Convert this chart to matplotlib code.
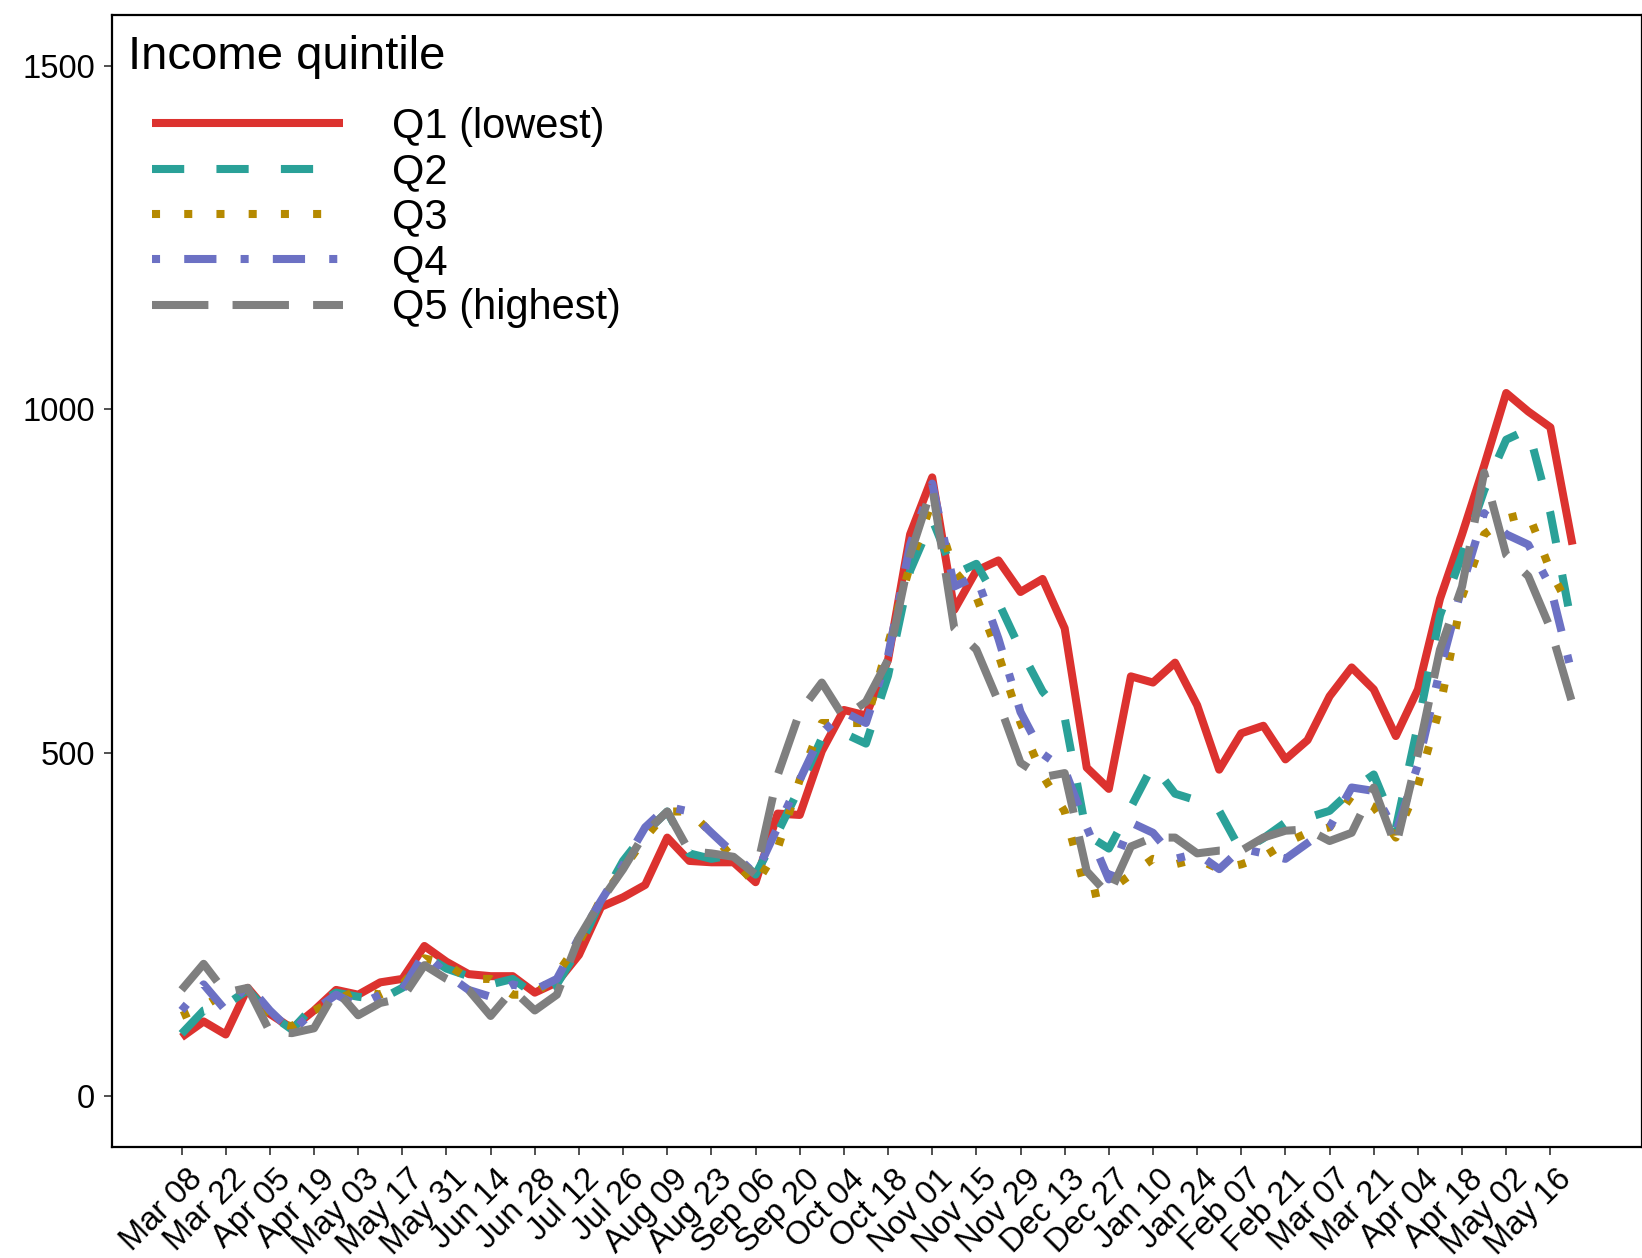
import pandas as pd
import matplotlib
matplotlib.use("Agg")
import matplotlib.pyplot as plt
import matplotlib.dates as mdates
from matplotlib.transforms import ScaledTranslation

plt.rcParams['font.family'] = ['Liberation Sans', 'DejaVu Sans']

# weekly dates, Mar 08 2020 .. May 23 2021
dates = pd.date_range('2020-03-08', periods=64, freq='7D')

q1 = [85, 108, 89, 157, 119, 98, 124, 154, 147, 165,
      170, 218, 195, 177, 174, 174, 150, 165, 205, 275,
      289, 307, 376, 342, 340, 340, 311, 411, 409, 502,
      562, 554, 635, 818, 901, 708, 765, 780, 734, 753,
      681, 478, 447, 611, 602, 631, 569, 475, 528, 539,
      490, 518, 582, 624, 592, 524, 592, 724, 818, 918,
      1024, 997, 974, 803]
q2 = [90, 124, 132, 154, 119, 96, 131, 150, 144, 140,
      157, 205, 185, 174, 162, 170, 147, 162, 215, 284,
      342, 383, 414, 353, 345, 351, 322, 383, 449, 521,
      528, 513, 612, 765, 840, 760, 775, 719, 650, 589,
      551, 380, 360, 420, 482, 440, 430, 415, 356, 375,
      398, 405, 415, 445, 468, 390, 540, 700, 788, 882,
      956, 971, 849, 681]
q3 = [116, 130, 150, 154, 108, 101, 124, 139, 154, 147,
      162, 200, 192, 170, 170, 147, 147, 177, 223, 287,
      330, 376, 414, 414, 383, 345, 307, 360, 460, 543,
      543, 543, 658, 773, 867, 765, 727, 643, 543, 467,
      414, 292, 299, 322, 345, 337, 345, 330, 337, 348,
      368, 383, 391, 437, 421, 376, 452, 566, 727, 818,
      841, 849, 765, 704]
q4 = [124, 162, 124, 162, 124, 93, 124, 147, 131, 147,
      154, 208, 177, 154, 144, 162, 154, 170, 230, 284,
      336, 391, 421, 414, 383, 353, 322, 391, 460, 528,
      559, 543, 641, 803, 892, 742, 757, 666, 559, 498,
      475, 391, 315, 398, 383, 345, 353, 330, 360, 353,
      345, 368, 391, 449, 444, 383, 482, 620, 742, 849,
      818, 803, 742, 612]
q5 = [154, 192, 150, 157, 93, 91, 98, 154, 117, 135,
      142, 190, 170, 154, 116, 154, 124, 147, 230, 284,
      330, 383, 414, 356, 353, 348, 322, 467, 559, 602,
      551, 574, 635, 788, 887, 681, 650, 574, 485, 464,
      470, 327, 292, 363, 376, 376, 353, 357, 357, 376,
      386, 388, 371, 383, 449, 363, 498, 650, 742, 908,
      788, 757, 681, 571]

labels = ['Q1 (lowest)', 'Q2', 'Q3', 'Q4', 'Q5 (highest)']
series = [q1, q2, q3, q4, q5]
colors = ['#dc322f', '#2aa198', '#b58900', '#6c71c4', '#7f7f7f']
styles = ['-', (0, (4, 4)), (0, (1, 3)), (0, (1, 3, 4, 3)), (0, (7, 3))]

fig = plt.figure(figsize=(16.42, 12.58), dpi=100)
ax = fig.add_axes([112/1642, 1 - 1147/1258, 1530/1642, 1132/1258])

for vals, lab, col, ls in zip(series, labels, colors, styles):
    ax.plot(dates, vals, color=col, linestyle=ls, linewidth=5.8, label=lab,
            solid_capstyle='butt', dash_capstyle='butt',
            solid_joinstyle='round', dash_joinstyle='round')

span = dates[-1] - dates[0]
pad = span * 0.05
ax.set_xlim(dates[0] - pad, dates[-1] + pad)
ax.set_ylim(-75, 1575)
ax.set_yticks([0, 500, 1000, 1500])

ticks = pd.date_range('2020-03-08', '2021-05-16', freq='14D')
ax.set_xticks(ticks)
ax.xaxis.set_major_formatter(mdates.DateFormatter('%b %d'))

ax.tick_params(axis='both', direction='out', length=6, width=1.2,
               color='#333333', labelcolor='black', labelsize=23.5, pad=6)
shift = ScaledTranslation(0.05, 0.0, fig.dpi_scale_trans)
for t in ax.get_xticklabels():
    t.set_rotation(45)
    t.set_ha('right')
    t.set_va('top')
    t.set_rotation_mode('anchor')
    t.set_transform(t.get_transform() + shift)

for s in ax.spines.values():
    s.set_linewidth(1.6)
    s.set_color('black')

ax.text(0.0105, 0.9523, 'Income quintile', transform=ax.transAxes,
        fontsize=34, va='baseline', ha='left')
ax.legend(loc='upper left', bbox_to_anchor=(0.0261, 0.919), frameon=False,
          fontsize=30, handlelength=4.58, handletextpad=1.19,
          labelspacing=0.13, borderpad=0, borderaxespad=0)

fig.savefig('out.png', dpi=100)
